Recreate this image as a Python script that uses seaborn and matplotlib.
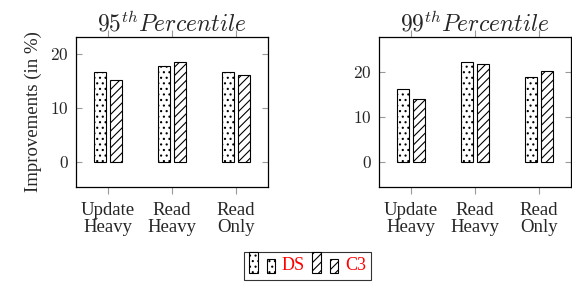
import numpy as np
import pandas as pd
import matplotlib
matplotlib.use("Agg")
import matplotlib.pyplot as plt
from matplotlib.patches import Rectangle
from matplotlib.legend_handler import HandlerBase
import seaborn as sns

# data
workloads = ["Update\nHeavy", "Read\nHeavy", "Read\nOnly"]
systems = ["DS", "C3"]
p95_ds = [16.7, 17.7, 16.6]
p95_c3 = [15.2, 18.5, 16.0]
p99_ds = [16.2, 22.3, 18.9]
p99_c3 = [14.0, 21.9, 20.2]
titles = [r"$95^{th}Percentile$", r"$99^{th}Percentile$"]
hatches = {"DS": "...", "C3": "////"}

sns.set_theme(style="white")
plt.rcParams["font.family"] = ["Liberation Serif", "DejaVu Serif"]
plt.rcParams["mathtext.fontset"] = "cm"
plt.rcParams["hatch.linewidth"] = 0.8


class TwoBarHandler(HandlerBase):
    """pgfplots-style ybar legend image: two small bars"""
    def create_artists(self, legend, orig_handle, xdescent, ydescent,
                       width, height, fontsize, trans):
        h = orig_handle.get_hatch()
        w = width * 0.3
        r1 = Rectangle((-xdescent, -ydescent - 2), w, height + 6, facecolor="white",
                       edgecolor="black", hatch=h, lw=0.8, transform=trans)
        r2 = Rectangle((-xdescent + width * 0.6, -ydescent - 2), w, height + 1,
                       facecolor="white", edgecolor="black", hatch=h, lw=0.8,
                       transform=trans)
        return [r1, r2]


def make_df(ds, c3):
    return pd.DataFrame({
        "workload": workloads * 2,
        "system": ["DS"] * 3 + ["C3"] * 3,
        "value": ds + c3,
    })


fig = plt.figure(figsize=(5.72, 2.88), dpi=100)
ax1 = fig.add_axes([76 / 572, 1 - 187 / 288, 192 / 572, 150 / 288])
ax2 = fig.add_axes([379 / 572, 1 - 187 / 288, 192 / 572, 150 / 288])

panels = [(ax1, make_df(p95_ds, p95_c3), (-4.6, 23.1)),
          (ax2, make_df(p99_ds, p99_c3), (-5.5, 27.8))]

for i, (ax, df, ylim) in enumerate(panels):
    sns.barplot(data=df, x="workload", y="value", hue="system",
                order=workloads, hue_order=systems, ax=ax,
                width=0.52, gap=0.27, palette=["white", "white"],
                edgecolor="black", linewidth=0.8, legend=False)
    for cont, s in zip(ax.containers, systems):
        for bar in cont:
            bar.set_hatch(hatches[s])
            bar.set_facecolor("white")
    ax.set_xlim(-0.5, 2.5)
    ax.set_ylim(*ylim)
    ax.set_yticks([0, 10, 20])
    ax.set_yticklabels([r"$%d$" % v for v in [0, 10, 20]], fontsize=12.5)
    ax.set_xticks(range(3))
    ax.set_xticklabels(workloads, fontsize=13.5, linespacing=1.0)
    ax.set_xlabel("")
    ax.set_ylabel("")
    ax.tick_params(axis="x", direction="out", top=True, bottom=True,
                   length=5, color="#999999", width=0.8, pad=6)
    ax.tick_params(axis="y", direction="in", left=True, right=True,
                   length=4, color="#999999", width=0.8, pad=5)
    for sp in ax.spines.values():
        sp.set_color("black")
        sp.set_linewidth(0.9)
    ax.set_title(titles[i], fontsize=17, pad=4)

ax1.set_ylabel("Improvements (in %)", fontsize=13.5, labelpad=6)

handles = [Rectangle((0, 0), 1, 1, facecolor="white", edgecolor="black",
                     hatch=hatches[s]) for s in systems]
leg = fig.legend(handles, systems, loc="upper left",
                 bbox_to_anchor=(244 / 572, 1 - 252 / 288), ncol=2,
                 handler_map={Rectangle: TwoBarHandler()},
                 fontsize=13, frameon=True, fancybox=False,
                 edgecolor="black", handlelength=1.6, handletextpad=0.2,
                 columnspacing=0.4, borderpad=0.3, borderaxespad=0)
leg.get_frame().set_linewidth(0.8)
for t in leg.get_texts():
    t.set_color("red")

fig.savefig("out.png", dpi=100)
